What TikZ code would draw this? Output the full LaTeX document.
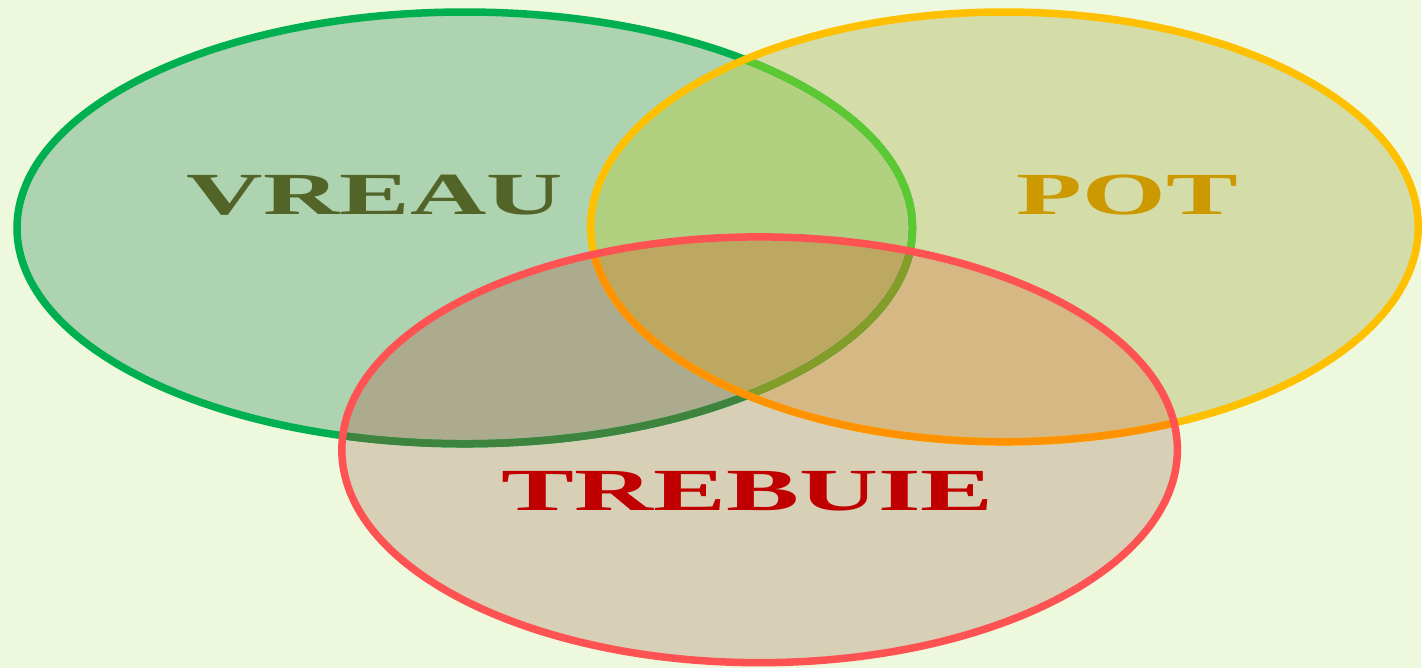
\documentclass[tikz,border=0pt]{standalone}
\usepackage{fontspec}
\setmainfont{Liberation Serif}
\usepackage{tikz}

\definecolor{paper}{RGB}{238,248,220}
% region fills
\definecolor{vreaufill}{RGB}{174,211,177}
\definecolor{potfill}{RGB}{212,221,168}
\definecolor{trebuiefill}{RGB}{215,208,182}
\definecolor{vpfill}{RGB}{177,209,128}
\definecolor{vtfill}{RGB}{173,171,142}
\definecolor{ptfill}{RGB}{214,184,132}
\definecolor{allfill}{RGB}{188,168,96}
% outlines
\definecolor{vreauline}{RGB}{0,176,80}
\definecolor{vreaulinep}{RGB}{92,200,50}
\definecolor{vreaulinet}{RGB}{62,132,62}
\definecolor{vreaulinept}{RGB}{132,156,40}
\definecolor{potline}{RGB}{255,192,0}
\definecolor{potlinet}{RGB}{255,146,0}
\definecolor{trebuieline}{RGB}{255,82,82}
% labels
\definecolor{vreautext}{RGB}{82,100,40}
\definecolor{pottext}{RGB}{204,153,0}
\definecolor{trebuietext}{RGB}{192,0,0}

% the three sets
\newcommand{\vreauset}{(465,228) ellipse [x radius=448, y radius=216]}
\newcommand{\potset}{(1005,227) ellipse [x radius=414, y radius=215]}
\newcommand{\trebuieset}{(760,450) ellipse [x radius=418, y radius=213]}

\begin{document}
\begin{tikzpicture}[
    x=0.1mm, y=-0.1mm,
    rim/.style={line width=0.75mm},
    setlabel/.style={inner sep=0pt, font=\fontsize{17}{17}\selectfont\bfseries}
  ]

    % background
    \fill[paper] (0,0) rectangle (1422,668);

    % fills, region by region
    \fill[vreaufill] \vreauset;
    \fill[potfill] \potset;
    \begin{scope}
      \clip \potset;
      \fill[vpfill] \vreauset;
    \end{scope}
    \fill[trebuiefill] \trebuieset;
    \begin{scope}
      \clip \trebuieset;
      \fill[vtfill] \vreauset;
      \fill[ptfill] \potset;
      \clip \vreauset;
      \fill[allfill] \potset;
    \end{scope}

    % outlines
    \draw[rim, vreauline] \vreauset;
    \begin{scope}
      \clip \potset;
      \draw[rim, vreaulinep] \vreauset;
    \end{scope}
    \begin{scope}
      \clip \trebuieset;
      \draw[rim, vreaulinet] \vreauset;
      \clip \potset;
      \draw[rim, vreaulinept] \vreauset;
    \end{scope}
    \draw[rim, potline] \potset;
    \begin{scope}
      \clip \trebuieset;
      \draw[rim, potlinet] \potset;
    \end{scope}
    \draw[rim, trebuieline] \trebuieset;

    % labels
    \node[setlabel, text=vreautext] (vreau) at (375,195) {\scalebox{1.77}[1]{VREAU}};
    \node[setlabel, text=pottext] (pot) at (1128,195) {\scalebox{1.8}[1]{POT}};
    \node[setlabel, text=trebuietext] (trebuie) at (748,491) {\scalebox{1.83}[1]{TREBUIE}};

  \end{tikzpicture}
\end{document}
